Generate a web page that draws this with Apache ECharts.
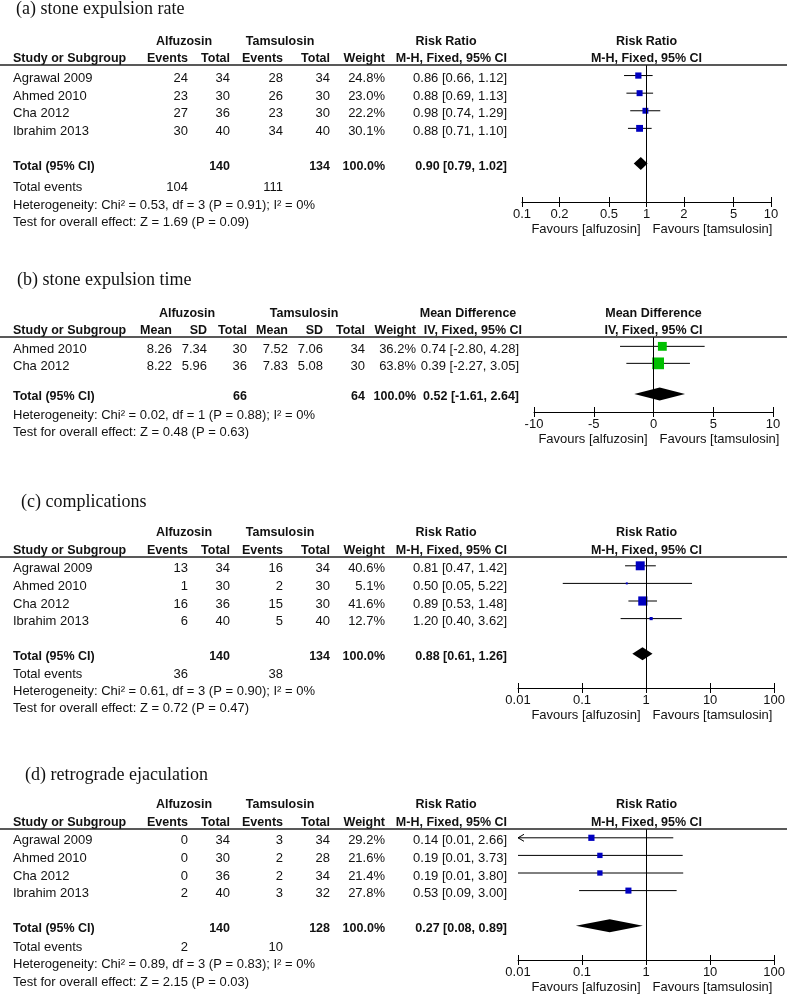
<!DOCTYPE html>
<html><head><meta charset="utf-8">
<script src="https://cdn.jsdelivr.net/npm/echarts@6/dist/echarts.min.js"></script>
<style>html,body{margin:0;padding:0;background:#fff}#c{width:788px;height:998px}</style>
</head><body><div id="c"></div>
<script>
// ---------------- DATA ----------------
// (a) stone expulsion rate
const titleA = '(a) stone expulsion rate';
const studiesA = ['Agrawal 2009', 'Ahmed 2010', 'Cha 2012', 'Ibrahim 2013'];
const alfEventsA = [24, 23, 27, 30];
const alfTotalA = [34, 30, 36, 40];
const tamEventsA = [28, 26, 23, 34];
const tamTotalA = [34, 30, 30, 40];
const weightA = [24.8, 23.0, 22.2, 30.1];
const rrA = [0.86, 0.88, 0.98, 0.88];
const loA = [0.66, 0.69, 0.74, 0.71];
const hiA = [1.12, 1.13, 1.29, 1.10];
const pooledA = [0.90, 0.79, 1.02];
const sumTotalA = [140, 134];
const sumEventsA = [104, 111];
const hetA = 'Heterogeneity: Chi\u00B2 = 0.53, df = 3 (P = 0.91); I\u00B2 = 0%';
const testA = 'Test for overall effect: Z = 1.69 (P = 0.09)';
const ticksA = [0.1, 0.2, 0.5, 1, 2, 5, 10];
const tickLabelsA = ['0.1', '0.2', '0.5', '1', '2', '5', '10'];

// (b) stone expulsion time
const titleB = '(b) stone expulsion time';
const studiesB = ['Ahmed 2010', 'Cha 2012'];
const alfMeanB = [8.26, 8.22];
const alfSdB = [7.34, 5.96];
const alfTotalB = [30, 36];
const tamMeanB = [7.52, 7.83];
const tamSdB = [7.06, 5.08];
const tamTotalB = [34, 30];
const weightB = [36.2, 63.8];
const mdB = [0.74, 0.39];
const loB = [-2.80, -2.27];
const hiB = [4.28, 3.05];
const pooledB = [0.52, -1.61, 2.64];
const sumTotalB = [66, 64];
const hetB = 'Heterogeneity: Chi\u00B2 = 0.02, df = 1 (P = 0.88); I\u00B2 = 0%';
const testB = 'Test for overall effect: Z = 0.48 (P = 0.63)';
const ticksB = [-10, -5, 0, 5, 10];
const tickLabelsB = ['-10', '-5', '0', '5', '10'];

// (c) complications
const titleC = '(c) complications';
const studiesC = ['Agrawal 2009', 'Ahmed 2010', 'Cha 2012', 'Ibrahim 2013'];
const alfEventsC = [13, 1, 16, 6];
const alfTotalC = [34, 30, 36, 40];
const tamEventsC = [16, 2, 15, 5];
const tamTotalC = [34, 30, 30, 40];
const weightC = [40.6, 5.1, 41.6, 12.7];
const rrC = [0.81, 0.50, 0.89, 1.20];
const loC = [0.47, 0.05, 0.53, 0.40];
const hiC = [1.42, 5.22, 1.48, 3.62];
const pooledC = [0.88, 0.61, 1.26];
const sumTotalC = [140, 134];
const sumEventsC = [36, 38];
const hetC = 'Heterogeneity: Chi\u00B2 = 0.61, df = 3 (P = 0.90); I\u00B2 = 0%';
const testC = 'Test for overall effect: Z = 0.72 (P = 0.47)';
const ticksC = [0.01, 0.1, 1, 10, 100];
const tickLabelsC = ['0.01', '0.1', '1', '10', '100'];

// (d) retrograde ejaculation
const titleD = '(d) retrograde ejaculation';
const studiesD = ['Agrawal 2009', 'Ahmed 2010', 'Cha 2012', 'Ibrahim 2013'];
const alfEventsD = [0, 0, 0, 2];
const alfTotalD = [34, 30, 36, 40];
const tamEventsD = [3, 2, 2, 3];
const tamTotalD = [34, 28, 34, 32];
const weightD = [29.2, 21.6, 21.4, 27.8];
const rrD = [0.14, 0.19, 0.19, 0.53];
const loD = [0.01, 0.01, 0.01, 0.09];
const hiD = [2.66, 3.73, 3.80, 3.00];
const ciBeyondAxisD = [true, false, false, false];
const pooledD = [0.27, 0.08, 0.89];
const sumTotalD = [140, 128];
const sumEventsD = [2, 10];
const hetD = 'Heterogeneity: Chi\u00B2 = 0.89, df = 3 (P = 0.83); I\u00B2 = 0%';
const testD = 'Test for overall effect: Z = 2.15 (P = 0.03)';
const ticksD = [0.01, 0.1, 1, 10, 100];
const tickLabelsD = ['0.01', '0.1', '1', '10', '100'];

const totalWeightLabel = '100.0%';
const groupNames = ['Alfuzosin', 'Tamsulosin'];
const favours = ['Favours [alfuzosin]', 'Favours [tamsulosin]'];

// ---------------- LAYOUT / STYLE ----------------
const SANS = '"Liberation Sans", Arial, sans-serif';
const SERIF = '"Liberation Serif", "Times New Roman", serif';
const TXT = '#111';
const BLUE = '#0000C0';
const GREEN = '#00C000';
const REG = '13px ' + SANS;
const BOLD = 'bold 12.5px ' + SANS;

const colsBin = {ev1: 188, tot1: 230, ev2: 283, tot2: 330, wt: 385, wtHdr: 385, ci: 507, ciHdr: 507, alf: 184, tam: 280, eff: 446};
const colsCont = {m1: 172, sd1: 207, n1: 247, m2: 288, sd2: 323, n2: 365, wt: 416, wtHdr: 416, ci: 519, ciHdr: 522, alf: 187, tam: 304, eff: 468};

const layA = {tx: 16, ty: 9, h1: 42, h2: 59, line: 65, axis: 202, rowH: 17.6, off: 0.6, totalIdx: 5.6, extra: [187, 205, 222], left: 522, right: 771, sq: w => 1.25 * Math.sqrt(w)};
const layB = {tx: 17, ty: 280, h1: 314, h2: 331, line: 337, axis: 412, rowH: 17, off: 0.55, totalIdx: 3.35, extra: [415, 432], left: 534, right: 773, sq: w => 1.47 * Math.sqrt(w)};
const layC = {tx: 21, ty: 502, h1: 533, h2: 551, line: 557, axis: 688, rowH: 17.6, off: 0.5, totalIdx: 5.5, extra: [674, 691, 708], left: 518, right: 775, sq: w => Math.max(2, 0.32 * Math.pow(w, 0.9))};
const layD = {tx: 25, ty: 775, h1: 805, h2: 823, line: 829, axis: 960, rowH: 17.6, off: 0.5, totalIdx: 5.5, extra: [947, 964, 982], left: 518, right: 775, sq: w => 1.15 * Math.sqrt(w)};

// ---------------- BUILD ----------------
const graphics = [];
const grids = [], xAxes = [], yAxes = [], series = [];

function txt(x, y, s, align, bold, font) {
  graphics.push({type: 'text', x: x, y: y, silent: true, z: 10,
    style: {text: String(s), fill: TXT, font: font || (bold ? BOLD : REG),
      align: align || 'left', verticalAlign: 'middle'}});
}
function hline(y) {
  graphics.push({type: 'line', silent: true, z: 10, shape: {x1: 0, y1: y, x2: 787, y2: y}, style: {stroke: '#222', lineWidth: 1.5}});
}
const f2 = v => v.toFixed(2);
const ciText = (e, l, h) => f2(e) + ' [' + f2(l) + ', ' + f2(h) + ']';

function buildPlot(p) {
  const L = p.lay;
  const gi = grids.length;
  const tr = p.log ? (v => Math.log10(v)) : (v => v);
  const tv = p.ticks.map(tr);
  const xmin = tv[0], xmax = tv[tv.length - 1];
  const fmt = v => { let b = 0; tv.forEach((t, i) => { if (Math.abs(t - v) < Math.abs(tv[b] - v)) b = i; }); return p.tickLabels[b]; };
  grids.push({left: L.left, width: L.right - L.left, top: L.line, height: L.axis - L.line});
  xAxes.push({gridIndex: gi, type: 'value', position: 'bottom', min: xmin, max: xmax,
    axisLine: {show: true, onZero: false, lineStyle: {color: '#000', width: 1}},
    axisTick: {show: true, customValues: tv, length: 5, lineStyle: {color: '#000', width: 1}},
    axisLabel: {show: true, customValues: tv, formatter: fmt, color: TXT, fontSize: 13, fontFamily: SANS, margin: 6},
    splitLine: {show: false}});
  xAxes.push({gridIndex: gi, type: 'value', position: 'bottom', min: xmin, max: xmax,
    axisLine: {show: false, onZero: false},
    axisTick: {show: true, inside: true, customValues: tv, length: 5, lineStyle: {color: '#000', width: 1}},
    axisLabel: {show: false}, splitLine: {show: false}});
  const yMax = (L.axis - L.line) / L.rowH;
  yAxes.push({gridIndex: gi, type: 'value', inverse: true, min: 0, max: yMax, show: false});

  const data = p.est.map((e, i) => [tr(e), tr(p.lo[i]), tr(p.hi[i]), i + L.off, p.weight[i], (p.beyond && p.beyond[i]) ? 1 : 0]);
  series.push({type: 'custom', xAxisIndex: 2 * gi, yAxisIndex: gi, silent: true, clip: false, data: data,
    renderItem: (params, api) => {
      const pl = api.coord([api.value(1), api.value(3)]);
      const ph = api.coord([api.value(2), api.value(3)]);
      const pe = api.coord([api.value(0), api.value(3)]);
      const s = L.sq(api.value(4));
      const ch = [{type: 'line', shape: {x1: pl[0], y1: pl[1], x2: ph[0], y2: ph[1]}, style: {stroke: '#000', lineWidth: 1}}];
      if (api.value(5)) {
        ch.push({type: 'polyline', shape: {points: [[pl[0] + 6, pl[1] - 3.5], [pl[0], pl[1]], [pl[0] + 6, pl[1] + 3.5]]}, style: {stroke: '#000', fill: null, lineWidth: 1}});
      }
      ch.push({type: 'rect', shape: {x: pe[0] - s / 2, y: pe[1] - s / 2, width: s, height: s}, style: {fill: p.color}});
      return {type: 'group', children: ch};
    },
    markLine: {silent: true, animation: false, symbol: ['none', 'none'], label: {show: false},
      lineStyle: {color: '#000', width: 1, type: 'solid'}, emphasis: {disabled: true},
      data: [{xAxis: tr(p.nullVal)}]}
  });
  series.push({type: 'custom', xAxisIndex: 2 * gi, yAxisIndex: gi, silent: true, clip: false,
    data: [[tr(p.pooled[0]), tr(p.pooled[1]), tr(p.pooled[2]), L.totalIdx]],
    renderItem: (params, api) => {
      const c = api.coord([api.value(0), api.value(3)]);
      const l = api.coord([api.value(1), api.value(3)]);
      const h = api.coord([api.value(2), api.value(3)]);
      const hh = 6.5;
      return {type: 'polygon', shape: {points: [[l[0], c[1]], [c[0], c[1] - hh], [h[0], c[1]], [c[0], c[1] + hh]]}, style: {fill: '#000'}};
    }
  });
  const nullPx = L.left + (L.right - L.left) * (tr(p.nullVal) - xmin) / (xmax - xmin);
  txt(nullPx - 6, L.axis + 27, favours[0], 'right');
  txt(nullPx + 6, L.axis + 27, favours[1], 'left');
  return nullPx;
}

function buildBinary(p) {
  const L = p.lay, C = colsBin;
  const nullPx = buildPlot(p);
  const ty = i => L.line + (i + L.off) * L.rowH + 3;
  txt(L.tx, L.ty, p.title, 'left', false, '18px ' + SERIF);
  txt(C.alf, L.h1, groupNames[0], 'center', true);
  txt(C.tam, L.h1, groupNames[1], 'center', true);
  txt(C.eff, L.h1, 'Risk Ratio', 'center', true);
  txt(nullPx, L.h1, 'Risk Ratio', 'center', true);
  txt(13, L.h2, 'Study or Subgroup', 'left', true);
  txt(C.ev1, L.h2, 'Events', 'right', true);
  txt(C.tot1, L.h2, 'Total', 'right', true);
  txt(C.ev2, L.h2, 'Events', 'right', true);
  txt(C.tot2, L.h2, 'Total', 'right', true);
  txt(C.wtHdr, L.h2, 'Weight', 'right', true);
  txt(C.ciHdr, L.h2, 'M-H, Fixed, 95% CI', 'right', true);
  txt(nullPx, L.h2, 'M-H, Fixed, 95% CI', 'center', true);
  hline(L.line);
  p.studies.forEach((s, i) => {
    const y = ty(i);
    txt(13, y, s, 'left');
    txt(C.ev1, y, p.e1[i], 'right');
    txt(C.tot1, y, p.n1[i], 'right');
    txt(C.ev2, y, p.e2[i], 'right');
    txt(C.tot2, y, p.n2[i], 'right');
    txt(C.wt, y, p.weight[i].toFixed(1) + '%', 'right');
    txt(C.ci, y, ciText(p.est[i], p.lo[i], p.hi[i]), 'right');
  });
  const yT = L.line + L.totalIdx * L.rowH + 3;
  txt(13, yT, 'Total (95% CI)', 'left', true);
  txt(C.tot1, yT, p.sumTotal[0], 'right', true);
  txt(C.tot2, yT, p.sumTotal[1], 'right', true);
  txt(C.wt, yT, totalWeightLabel, 'right', true);
  txt(C.ci, yT, ciText(p.pooled[0], p.pooled[1], p.pooled[2]), 'right', true);
  txt(13, L.extra[0], 'Total events', 'left');
  txt(C.ev1, L.extra[0], p.sumEvents[0], 'right');
  txt(C.ev2, L.extra[0], p.sumEvents[1], 'right');
  txt(13, L.extra[1], p.het, 'left');
  txt(13, L.extra[2], p.test, 'left');
}

function buildContinuous(p) {
  const L = p.lay, C = colsCont;
  const nullPx = buildPlot(p);
  const ty = i => L.line + (i + L.off) * L.rowH + 3;
  txt(L.tx, L.ty, p.title, 'left', false, '18px ' + SERIF);
  txt(C.alf, L.h1, groupNames[0], 'center', true);
  txt(C.tam, L.h1, groupNames[1], 'center', true);
  txt(C.eff, L.h1, 'Mean Difference', 'center', true);
  txt(nullPx, L.h1, 'Mean Difference', 'center', true);
  txt(13, L.h2, 'Study or Subgroup', 'left', true);
  txt(C.m1, L.h2, 'Mean', 'right', true);
  txt(C.sd1, L.h2, 'SD', 'right', true);
  txt(C.n1, L.h2, 'Total', 'right', true);
  txt(C.m2, L.h2, 'Mean', 'right', true);
  txt(C.sd2, L.h2, 'SD', 'right', true);
  txt(C.n2, L.h2, 'Total', 'right', true);
  txt(C.wtHdr, L.h2, 'Weight', 'right', true);
  txt(C.ciHdr, L.h2, 'IV, Fixed, 95% CI', 'right', true);
  txt(nullPx, L.h2, 'IV, Fixed, 95% CI', 'center', true);
  hline(L.line);
  p.studies.forEach((s, i) => {
    const y = ty(i);
    txt(13, y, s, 'left');
    txt(C.m1, y, f2(p.m1[i]), 'right');
    txt(C.sd1, y, f2(p.sd1[i]), 'right');
    txt(C.n1, y, p.n1[i], 'right');
    txt(C.m2, y, f2(p.m2[i]), 'right');
    txt(C.sd2, y, f2(p.sd2[i]), 'right');
    txt(C.n2, y, p.n2[i], 'right');
    txt(C.wt, y, p.weight[i].toFixed(1) + '%', 'right');
    txt(C.ci, y, ciText(p.est[i], p.lo[i], p.hi[i]), 'right');
  });
  const yT = L.line + L.totalIdx * L.rowH + 3;
  txt(13, yT, 'Total (95% CI)', 'left', true);
  txt(C.n1, yT, p.sumTotal[0], 'right', true);
  txt(C.n2, yT, p.sumTotal[1], 'right', true);
  txt(C.wt, yT, totalWeightLabel, 'right', true);
  txt(C.ci, yT, ciText(p.pooled[0], p.pooled[1], p.pooled[2]), 'right', true);
  txt(13, L.extra[0], p.het, 'left');
  txt(13, L.extra[1], p.test, 'left');
}

buildBinary({lay: layA, title: titleA, studies: studiesA, e1: alfEventsA, n1: alfTotalA, e2: tamEventsA, n2: tamTotalA,
  weight: weightA, est: rrA, lo: loA, hi: hiA, pooled: pooledA, sumTotal: sumTotalA, sumEvents: sumEventsA,
  het: hetA, test: testA, ticks: ticksA, tickLabels: tickLabelsA, log: true, nullVal: 1, color: BLUE});
buildContinuous({lay: layB, title: titleB, studies: studiesB, m1: alfMeanB, sd1: alfSdB, n1: alfTotalB, m2: tamMeanB, sd2: tamSdB, n2: tamTotalB,
  weight: weightB, est: mdB, lo: loB, hi: hiB, pooled: pooledB, sumTotal: sumTotalB,
  het: hetB, test: testB, ticks: ticksB, tickLabels: tickLabelsB, log: false, nullVal: 0, color: GREEN});
buildBinary({lay: layC, title: titleC, studies: studiesC, e1: alfEventsC, n1: alfTotalC, e2: tamEventsC, n2: tamTotalC,
  weight: weightC, est: rrC, lo: loC, hi: hiC, pooled: pooledC, sumTotal: sumTotalC, sumEvents: sumEventsC,
  het: hetC, test: testC, ticks: ticksC, tickLabels: tickLabelsC, log: true, nullVal: 1, color: BLUE});
buildBinary({lay: layD, title: titleD, studies: studiesD, e1: alfEventsD, n1: alfTotalD, e2: tamEventsD, n2: tamTotalD,
  weight: weightD, est: rrD, lo: loD, hi: hiD, beyond: ciBeyondAxisD, pooled: pooledD, sumTotal: sumTotalD, sumEvents: sumEventsD,
  het: hetD, test: testD, ticks: ticksD, tickLabels: tickLabelsD, log: true, nullVal: 1, color: BLUE});

const chart = echarts.init(document.getElementById('c'), null, {renderer: 'canvas'});
chart.setOption({
  backgroundColor: '#fff',
  animation: false,
  grid: grids,
  xAxis: xAxes,
  yAxis: yAxes,
  series: series,
  graphic: {elements: graphics}
});
</script></body></html>
